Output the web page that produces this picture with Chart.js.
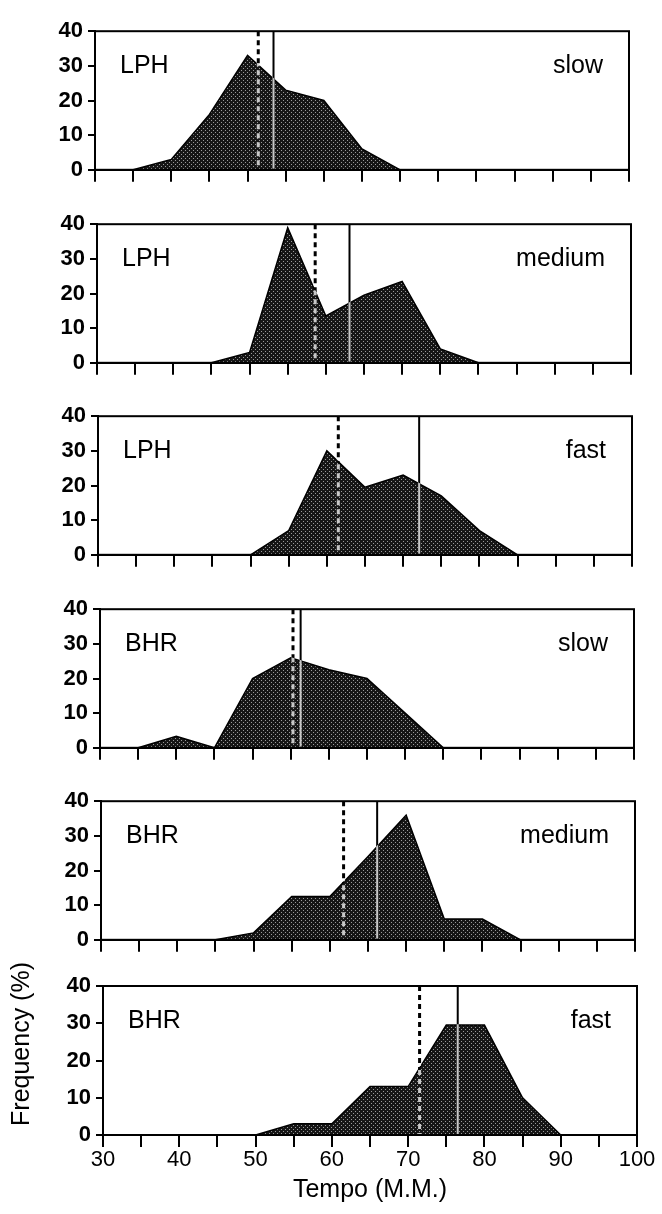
<!DOCTYPE html>
<html><head><meta charset="utf-8">
<script src="https://cdn.jsdelivr.net/npm/chart.js@4.4.1/dist/chart.umd.min.js"></script>
<style>
html,body{margin:0;padding:0;background:#fff;}
body{width:662px;height:1214px;position:relative;overflow:hidden;}
canvas{position:absolute;left:0;}
</style></head><body>
<script>
// ---- data ----
const tempo = [30,35,40,45,50,55,60,65,70,75,80,85,90,95,100];
const lphSlow   = [0,0,3,16,33,23,20,6,0,0,0,0,0,0,0];
const lphMedium = [0,0,0,0,3,39,13.5,19.5,23.5,4,0,0,0,0,0];
const lphFast   = [0,0,0,0,0,7,30,19.5,23,17,7,0,0,0,0];
const bhrSlow   = [0,0,3.3,0,20,26,22.5,20,10,0,0,0,0,0,0];
const bhrMedium = [0,0,0,0,2,12.5,12.5,24,36,6,6,0,0,0,0];
const bhrFast   = [0,0,0,0,0,3,3,13,13,29.5,29.5,10,0,0,0];
const meanTempo   = [53.4, 63.1, 72.1, 56.3, 66.2, 76.5];  // solid lines
const medianTempo = [51.4, 58.6, 61.5, 55.3, 61.8, 71.5];  // dotted lines
const performers = ['LPH','LPH','LPH','BHR','BHR','BHR'];
const speeds = ['slow','medium','fast','slow','medium','fast'];
const yTickValues = [0,10,20,30,40];
const xTickLabels = [30,40,50,60,70,80,90,100];
const series = [lphSlow, lphMedium, lphFast, bhrSlow, bhrMedium, bhrFast];

// ---- layout ----
const W = 662, H = 1214;
const LAY = {left0:95, leftStep:1.5, plotW:534, firstTop:23, period:192.6, plotH:149, padTop:10, padTopLast:50};
const FONT = "'Liberation Sans', Arial, Helvetica, sans-serif";

function makePattern(){
  const c = document.createElement('canvas'); c.width = 4; c.height = 4;
  const g = c.getContext('2d');
  g.fillStyle = '#161616'; g.fillRect(0,0,4,4);
  g.fillStyle = '#9a9a9a'; g.fillRect(1,1,1,1); g.fillRect(3,3,1,1);
  return g.createPattern(c,'repeat');
}
const pattern = makePattern();

const panelPlugin = {
  id:'panel',
  afterDatasetsDraw(chart, args, o){
    const ctx = chart.ctx, a = chart.chartArea, xs = chart.scales.x;
    const lines = [
      {v:o.median, dash:[5,4], w:3},
      {v:o.mean, dash:[], w:2}
    ];
    lines.forEach(l=>{
      const x = xs.getPixelForValue(l.v);
      ctx.save();
      ctx.beginPath(); ctx.rect(a.left, a.top, a.right-a.left, a.bottom-a.top); ctx.clip();
      ctx.setLineDash(l.dash); ctx.lineWidth = l.w;
      ctx.globalCompositeOperation = 'source-atop';
      ctx.strokeStyle = '#c8c8c8';
      ctx.beginPath(); ctx.moveTo(x, a.top+3); ctx.lineTo(x, a.bottom-1); ctx.stroke();
      ctx.globalCompositeOperation = 'destination-over';
      ctx.strokeStyle = '#000';
      ctx.beginPath(); ctx.moveTo(x, a.top); ctx.lineTo(x, a.bottom); ctx.stroke();
      ctx.restore();
    });
  },
  afterDraw(chart, args, o){
    const ctx = chart.ctx, a = chart.chartArea;
    ctx.save();
    ctx.strokeStyle = '#000'; ctx.lineWidth = 2;
    ctx.strokeRect(a.left, a.top, a.right-a.left, a.bottom-a.top);
    ctx.fillStyle = '#000';
    ctx.font = '25px ' + FONT;
    ctx.textBaseline = 'alphabetic';
    ctx.textAlign = 'left';
    ctx.fillText(o.name, a.left + 25, a.top + 42);
    ctx.textAlign = 'right';
    ctx.fillText(o.speed, a.right - 26, a.top + 42);
    if (o.yTitle){
      ctx.translate(22, a.top + 58);
      ctx.rotate(-Math.PI/2);
      ctx.textAlign = 'center'; ctx.textBaseline = 'middle';
      ctx.font = '25px ' + FONT;
      ctx.fillText(o.yTitle, 0, 0);
    }
    ctx.restore();
  }
};

for (let i = 0; i < 6; i++){
  const last = (i === 5);
  const pad = last ? LAY.padTopLast : LAY.padTop;
  const plotTop = Math.round(LAY.firstTop + i*LAY.period);
  const top = plotTop - pad;
  const ch = last ? (H - top) : (pad + LAY.plotH + 16);
  const xh = ch - pad - LAY.plotH;
  const left = Math.round(LAY.left0 + i*LAY.leftStep);
  const right = left + LAY.plotW;
  const cv = document.createElement('canvas');
  cv.width = W; cv.height = ch;
  cv.style.top = top + 'px'; cv.style.width = W+'px'; cv.style.height = ch+'px';
  document.body.appendChild(cv);
  new Chart(cv.getContext('2d'), {
    type:'line',
    data:{datasets:[{
      data: tempo.map((t,j)=>({x:t, y:series[i][j]})),
      fill:'origin', backgroundColor:pattern, borderColor:'#000', borderWidth:1.5,
      pointRadius:0, tension:0
    }]},
    options:{
      responsive:false, animation:false, devicePixelRatio:1,
      layout:{padding:{top:pad, right:W-right, left:0, bottom:0}},
      plugins:{
        legend:{display:false}, tooltip:{enabled:false},
        panel:{mean:meanTempo[i], median:medianTempo[i], name:performers[i], speed:speeds[i],
               yTitle: last ? 'Frequency (%)' : ''}
      },
      scales:{
        x:{
          type:'linear', min:tempo[0], max:tempo[tempo.length-1],
          afterFit(s){ s.height = xh; },
          ticks:{stepSize:5, autoSkip:false, maxRotation:0, color:'#000', padding:0,
            font:{family:FONT, size:22},
            callback:(v)=> (last && xTickLabels.includes(v)) ? String(v) : ''},
          grid:{drawOnChartArea:false, drawTicks:true, tickLength:12, color:'#000', tickColor:'#000', lineWidth:2},
          border:{display:true, color:'#000', width:2},
          title:{display:last, text:'Tempo (M.M.)', color:'#000', font:{family:FONT, size:25}, padding:{top:0, bottom:9}}
        },
        y:{
          min:0, max:40,
          afterFit(s){ s.width = left; },
          afterBuildTicks(s){ s.ticks = yTickValues.map(v=>({value:v})); },
          ticks:{color:'#000', padding:5, font:{family:FONT, size:22, weight:'bold'}},
          grid:{drawOnChartArea:false, drawTicks:true, tickLength:7, color:'#000', tickColor:'#000', lineWidth:2},
          border:{display:true, color:'#000', width:2}
        }
      }
    },
    plugins:[panelPlugin]
  });
}
</script>
</body></html>
